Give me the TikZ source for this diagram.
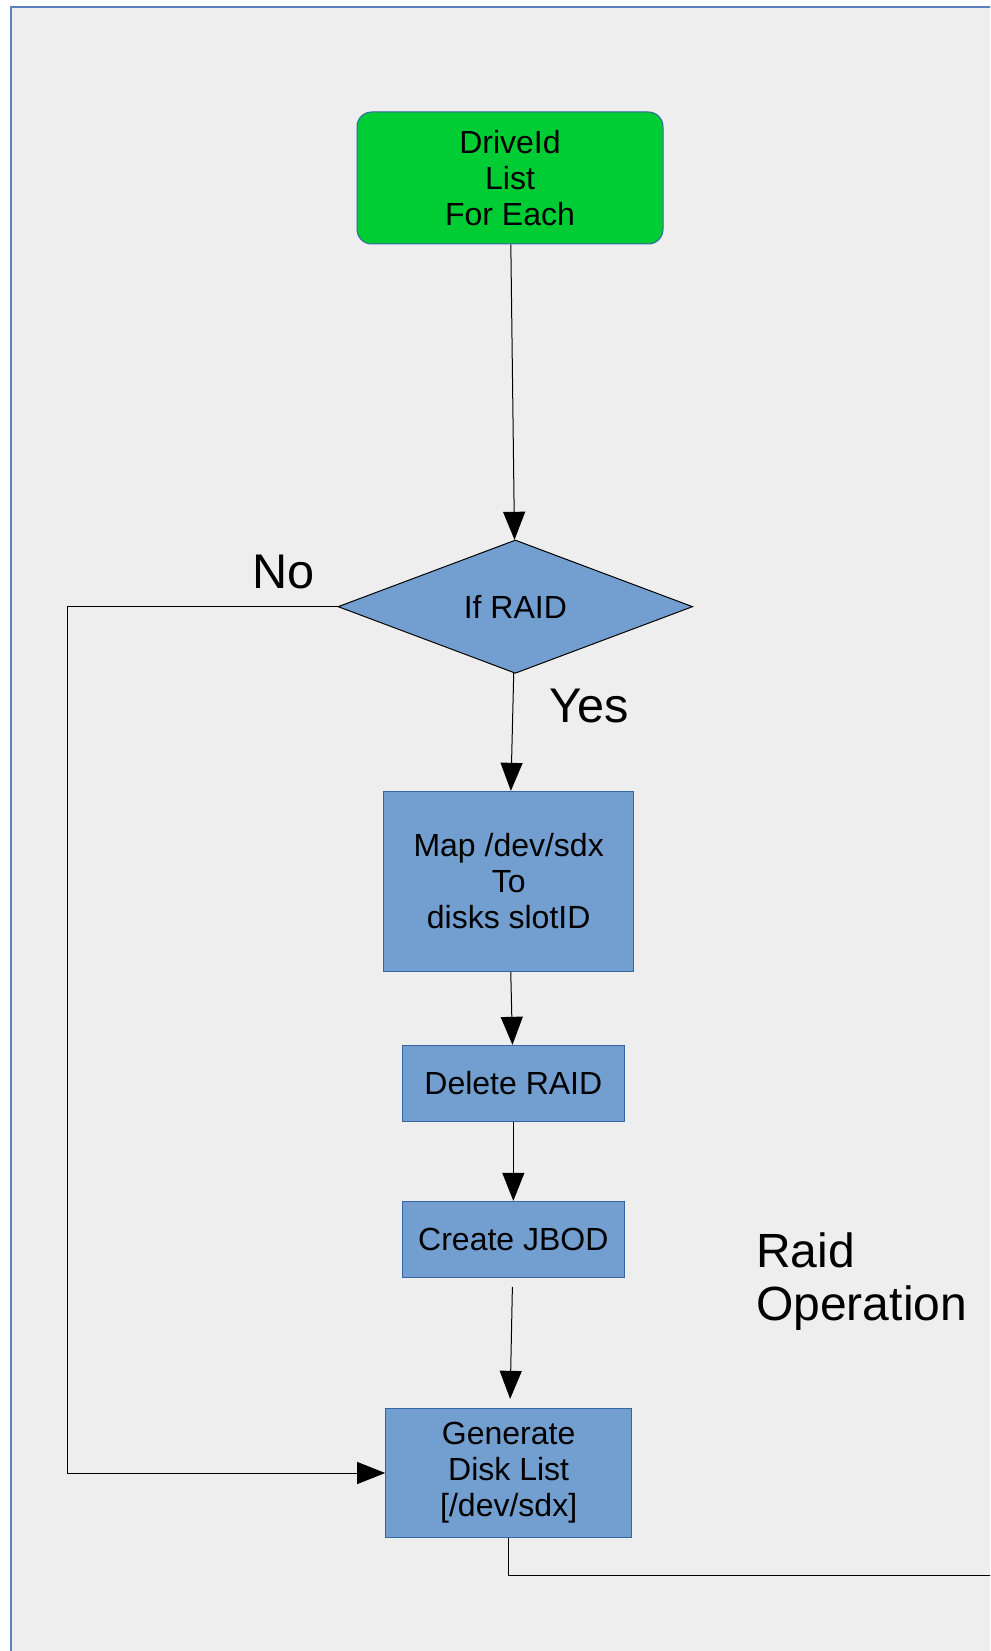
\documentclass[tikz,border=0pt]{standalone}
\usepackage{fontspec}
\setmainfont{Liberation Sans}
\usetikzlibrary{arrows.meta, positioning, shapes.geometric}

\definecolor{pagebg}{HTML}{EEEEEE}
\definecolor{framecol}{HTML}{5A80C0}
\definecolor{startgreen}{HTML}{00CC33}
\definecolor{stepblue}{HTML}{729FCF}
\definecolor{edgeblue}{HTML}{3465A4}

\begin{document}
\begin{tikzpicture}[
            x=0.75pt, y=-0.75pt,
            every node/.style={font=\fontsize{24}{27}\selectfont, align=center, text=black},
            start/.style={draw=edgeblue, fill=startgreen, rounded corners=11pt, minimum width=229.5pt, minimum height=99pt, line width=0.75pt},
            box/.style={draw=edgeblue, fill=stepblue, line width=0.75pt},
            decision/.style={diamond, draw=black, fill=stepblue, inner sep=0pt, minimum width=266pt, minimum height=100pt, line width=0.75pt},
            biglabel/.style={font=\fontsize{36.5}{40}\selectfont, inner sep=0pt},
            arrow/.style={-{Triangle[length=21pt, width=16.5pt]}, line width=0.75pt}
        ]

        % Page
        \clip (0,0) rectangle (990,1651);
        \fill[pagebg] (11,7) rectangle (1000,1660);
        \draw[framecol, line width=1.2pt] (11,1660) |- (1000,7);

        % Nodes
        \node[start] (driveid) at (510,178) {DriveId\\ List\\For Each};
        \node[decision, below=221.25pt of driveid, xshift=4pt] (ifraid) {If RAID};
        \node[box, minimum width=187.5pt, minimum height=135pt, below=87.75pt of ifraid, xshift=-5pt] (map) {Map /dev/sdx\\To\\disks slotID};
        \node[box, minimum width=166pt, minimum height=57pt, below=54.75pt of map, xshift=3.5pt] (delete) {Delete RAID};
        \node[box, minimum width=166pt, minimum height=57pt, below=59.25pt of delete] (jbod) {Create JBOD};
        \node[box, minimum width=184.5pt, minimum height=97pt, below=97.5pt of jbod, xshift=-3.5pt] (gen) {Generate\\Disk List\\{[}/dev/sdx{]}};
        \coordinate (out) at (1000,1575);

        % Labels
        \node[biglabel, anchor=base west] (nolabel) at (252,588) {No};
        \node[biglabel, anchor=base west] (yeslabel) at (549,722) {Yes};
        \node[font=\fontsize{36}{39.75}\selectfont, inner sep=0pt, align=left, anchor=base west] (raidop) at (756,1320) {Raid\\Operation};

        % Connections
        \draw[arrow] (driveid) -- (ifraid);
        \draw[arrow] (ifraid) -- (map);
        \draw[arrow] (map) -- (delete);
        \draw[arrow] (delete) -- (jbod);
        \draw[arrow, shorten <=6.75pt, shorten >=6.75pt] (jbod) -- (gen);
        \draw[arrow] (ifraid.west) -- ++(-270,0) |- (gen.west);
        \draw[line width=0.75pt] (gen.south) |- (out);

    \end{tikzpicture}
\end{document}
